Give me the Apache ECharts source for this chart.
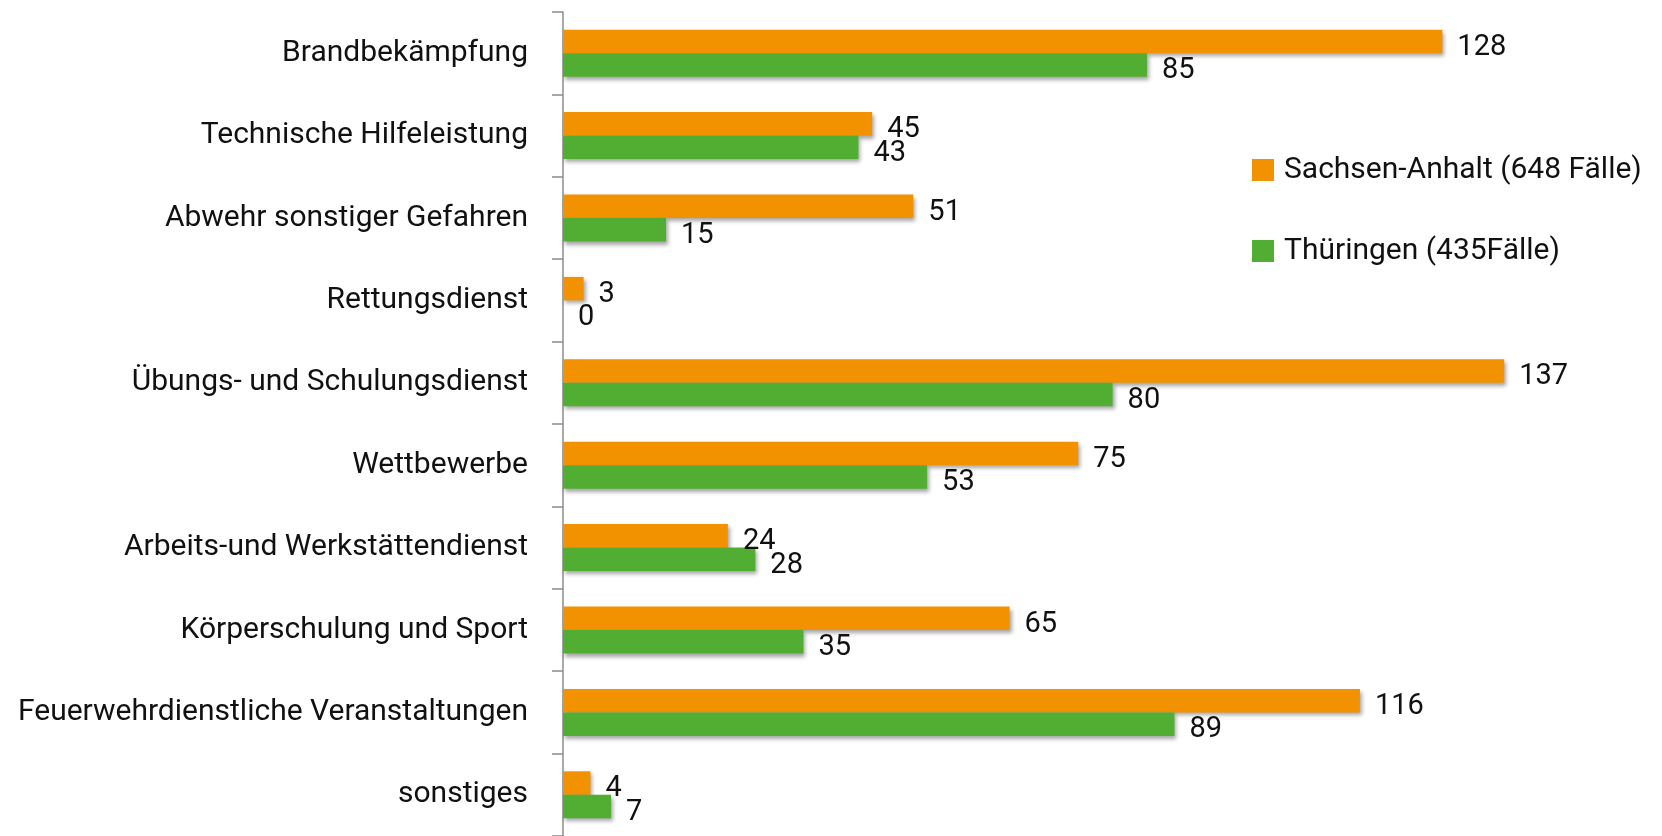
<!DOCTYPE html>
<html><head><meta charset="utf-8">
<script src="https://cdn.jsdelivr.net/npm/echarts@6/dist/echarts.min.js"></script>
<style>html,body{margin:0;padding:0;background:#fff}#c{width:1662px;height:836px}</style>
</head><body><div id="c"></div>
<script>
const categories = ["Brandbekämpfung","Technische Hilfeleistung","Abwehr sonstiger Gefahren","Rettungsdienst","Übungs- und Schulungsdienst","Wettbewerbe","Arbeits-und Werkstättendienst","Körperschulung und Sport","Feuerwehrdienstliche Veranstaltungen","sonstiges"];
const sachsenAnhalt = [128,45,51,3,137,75,24,65,116,4];
const thueringen = [85,43,15,0,80,53,28,35,89,7];
const seriesNames = ["Sachsen-Anhalt (648 Fälle)","Thüringen (435Fälle)"];

const FONT = "Roboto";
const chart = echarts.init(document.getElementById('c'));
const shadow = {shadowColor:'rgba(0,0,0,0.35)', shadowBlur:4, shadowOffsetX:2, shadowOffsetY:3};
const lbl = {show:true, position:'right', distance:15, offset:[0,6], fontFamily:FONT, fontSize:29, color:'#111'};
chart.setOption({
  animation:false,
  textStyle:{fontFamily:FONT},
  grid:{left:563, top:12, width:1030.5, height:830, containLabel:false},
  xAxis:{type:'value', min:0, max:150, show:false},
  yAxis:{type:'category', data:categories, inverse:true,
    axisLine:{show:true, lineStyle:{color:'#8c8c8c', width:1.5}},
    axisTick:{show:true, inside:false, length:11, alignWithLabel:false, lineStyle:{color:'#8c8c8c', width:1.5}},
    axisLabel:{margin:35, fontFamily:FONT, fontSize:30, color:'#111'}},
  legend:{orient:'vertical', left:1252, top:155, padding:0, itemWidth:22, itemHeight:22, itemGap:51, icon:'rect',
    textStyle:{fontFamily:FONT, fontSize:30, color:'#111', padding:[0,0,0,5]}},
  series:[
    {name:seriesNames[0], type:'bar', data:sachsenAnhalt, barWidth:23.5, barGap:'0%', itemStyle:Object.assign({color:'#F39200'},shadow), label:lbl},
    {name:seriesNames[1], type:'bar', data:thueringen, barWidth:23.5, barGap:'0%', itemStyle:Object.assign({color:'#52AE32'},shadow), label:lbl}
  ]
});
</script></body></html>
